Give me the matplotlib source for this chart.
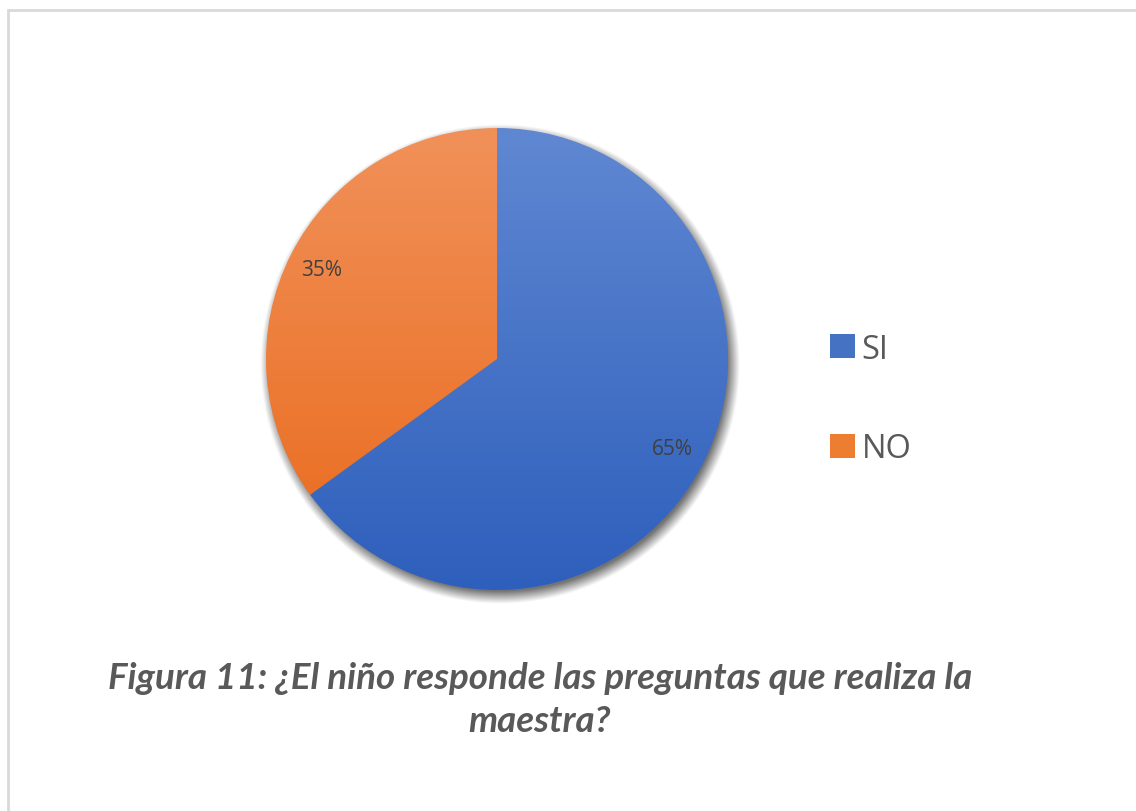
import numpy as np
from matplotlib import pyplot as plt
from matplotlib.patches import Rectangle
from matplotlib.colors import LinearSegmentedColormap

labels = ['SI', 'NO']
values = [65, 35]
top_colors = ['#6088d2', '#f1915a']
bottom_colors = ['#2e5fbc', '#e9691a']
caption = 'Figura 11: ¿El niño responde las preguntas que realiza la\nmaestra?'

W, H = 1136, 812
fig = plt.figure(figsize=(W / 100, H / 100), dpi=100)
fig.patch.set_facecolor('white')

# light grey frame round the chart area (cut off on the right and bottom)
fig.add_artist(Rectangle((7.5 / W, -0.05), 1.1, 1.05 - 10.5 / H, transform=fig.transFigure,
                         fill=False, edgecolor='#d9d9d9', lw=2))

# pie axes: centre (497, 360), radius 231 px
cx, cy, r = 497, 360, 231
pad = 20
ax = fig.add_axes([(cx - r - pad) / W, 1 - (cy + r + pad) / H, (2 * r + 2 * pad) / W, (2 * r + 2 * pad) / H])
lim = (r + pad) / r

# soft shadow under the pie, offset down and right
n = 400
xs = np.linspace(-lim, lim, n)
X, Y = np.meshgrid(xs, xs[::-1])
d = np.hypot(X - 0.014, Y + 0.022)
shadow_alpha = np.clip((1.04 - d) / 0.055, 0, 1) * 0.55
shadow = np.zeros((n, n, 4))
shadow[..., 3] = shadow_alpha
ax.imshow(shadow, extent=(-lim, lim, -lim, lim), zorder=0, interpolation='bilinear')

wedges, texts, autotexts = ax.pie(values, startangle=90, counterclock=False,
                                  autopct='%1.0f%%', pctdistance=0.85,
                                  wedgeprops={'linewidth': 0},
                                  textprops={'fontsize': 15, 'color': '#404040',
                                             'family': 'Open Sans'})

# vertical gradient fill for each slice
grad = np.linspace(0, 1, 256).reshape(-1, 1)
for w, c_top, c_bot in zip(wedges, top_colors, bottom_colors):
    w.set_facecolor('none')
    cmap = LinearSegmentedColormap.from_list('g', [c_top, c_bot])
    im = ax.imshow(grad, cmap=cmap, extent=(-1, 1, -1, 1), aspect='auto', zorder=1)
    im.set_clip_path(w)
for t in autotexts:
    t.set_zorder(3)

ax.set_xlim(-lim, lim)
ax.set_ylim(-lim, lim)
ax.set_aspect('equal')
ax.axis('off')

# legend with plain mid-tone swatches
handles = [Rectangle((0, 0), 1, 1, facecolor=c) for c in ['#4672c4', '#ed7d31']]
fig.legend(handles, labels, loc='center left', bbox_to_anchor=(801 / W, 1 - 400 / H),
           frameon=False, handlelength=0.75, handleheight=0.75,
           handletextpad=0.2, labelspacing=2.05, labelcolor='#595959',
           prop={'family': 'Open Sans', 'size': 23.5})

fig.text(540 / W, 1 - 700 / H, caption, ha='center', va='center', fontsize=26.5,
         fontstyle='italic', fontweight='bold', family='Lato', color='#595959',
         linespacing=1.35)

fig.savefig('out.png', dpi=100)
